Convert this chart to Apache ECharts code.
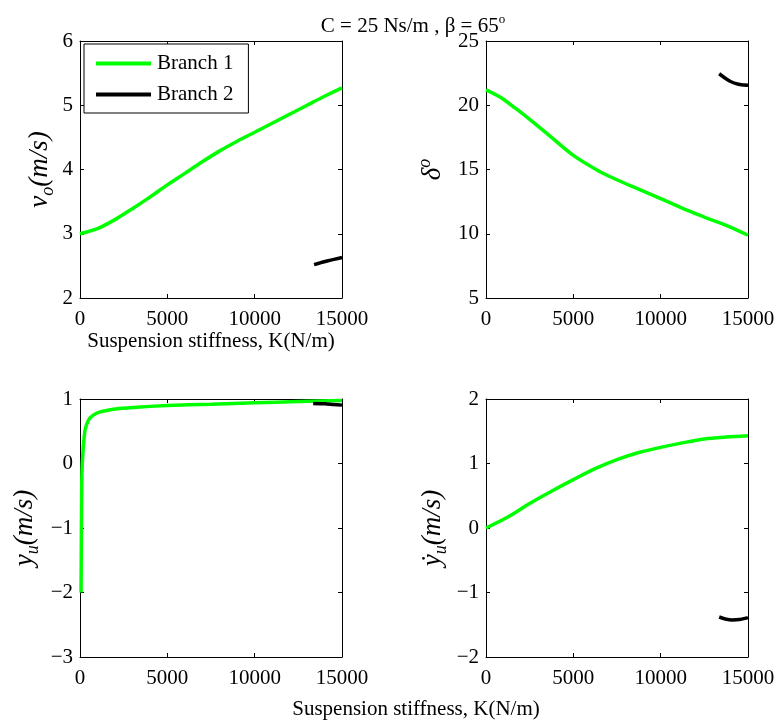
<!DOCTYPE html>
<html><head><meta charset="utf-8">
<script src="https://cdn.jsdelivr.net/npm/echarts@6/dist/echarts.min.js"></script>
<style>html,body{margin:0;padding:0;background:#fff}#c{width:779px;height:721px}</style>
</head><body><div id="c"></div>
<script>
// ---- data ----
const kVo1 = [0, 1000, 2000, 3000, 4000, 5000, 6000, 7000, 8000, 9000, 10000, 11000, 12000, 13000, 14000, 15000];
const vo1  = [3.0, 3.08, 3.22, 3.39, 3.57, 3.76, 3.94, 4.12, 4.29, 4.44, 4.58, 4.72, 4.86, 5.0, 5.14, 5.27];
const kVo2 = [13400, 13800, 14200, 14600, 15000];
const vo2  = [2.52, 2.55, 2.58, 2.605, 2.63];

const kDe1 = [0, 800, 1700, 2500, 3750, 5000, 6500, 7500, 8400, 10000, 11300, 12500, 13750, 15000];
const de1  = [21.2, 20.64, 19.75, 18.9, 17.5, 16.1, 14.85, 14.2, 13.66, 12.73, 11.95, 11.3, 10.65, 9.88];
const kDe2 = [13350, 13700, 14000, 14400, 14800, 15000];
const de2  = [22.45, 22.1, 21.85, 21.65, 21.57, 21.55];

const kYu1 = [60, 80, 100, 130, 190, 290, 480, 760, 1150, 2100, 3060, 5000, 7500, 10000, 12500, 15000];
const yu1  = [-2.0, -1.0, -0.3, 0.0, 0.26, 0.52, 0.67, 0.75, 0.8, 0.85, 0.87, 0.9, 0.92, 0.94, 0.96, 0.975];
const kYu2 = [13350, 14000, 14500, 15000];
const yu2  = [0.93, 0.925, 0.915, 0.905];

const kYd1 = [0, 1250, 2500, 3750, 5000, 6250, 7500, 8750, 10000, 11250, 12500, 13750, 15000];
const yd1  = [0, 0.17, 0.38, 0.57, 0.75, 0.92, 1.06, 1.17, 1.25, 1.32, 1.38, 1.41, 1.43];
const kYd2 = [13350, 13700, 14100, 14500, 15000];
const yd2  = [-1.38, -1.41, -1.425, -1.42, -1.39];

const xTicks = {min: 0, max: 15000, interval: 5000};
const yRanges = [
  {min: 2, max: 6, interval: 1},
  {min: 5, max: 25, interval: 5},
  {min: -3, max: 1, interval: 1},
  {min: -2, max: 2, interval: 1}
];
const titleText = 'C = 25 Ns/m , β = 65{sup|o}';
const xName = 'Suspension stiffness, K(N/m)';
const seriesNames = ['Branch 1', 'Branch 2'];

// ---- chart ----
const FONT = 'Liberation Serif';
const GREEN = '#00ff00', BLACK = '#000000';
const chart = echarts.init(document.getElementById('c'), null, {renderer: 'canvas'});

const grids = [
  {left: 80, top: 41, width: 262, height: 257},
  {left: 486, top: 41, width: 262, height: 257},
  {left: 80, top: 399, width: 262, height: 258},
  {left: 486, top: 399, width: 262, height: 258}
].map(g => Object.assign({show: false, containLabel: false, outerBoundsMode: 'none'}, g));

const nameRich = {
  i: {fontFamily: FONT, fontStyle: 'italic', fontSize: 27, lineHeight: 34, color: '#000'},
  sub: {fontFamily: FONT, fontStyle: 'italic', fontSize: 18, lineHeight: 18, verticalAlign: 'bottom', color: '#000'},
  sup: {fontFamily: FONT, fontStyle: 'italic', fontSize: 18, lineHeight: 18, verticalAlign: 'top', color: '#000'}
};
const yNames = [
  {t: '{i|v}{sub|o}{i|(m/s)}', gap: 23},
  {t: '{i|δ}{sup|o}', gap: 36},
  {t: '{i|y}{sub|u}{i|(m/s)}', gap: 38},
  {t: '{i|ẏ}{sub|u}{i|(m/s)}', gap: 36}
];

const axLine = {show: true, onZero: false, lineStyle: {color: '#000', width: 1}};
const axTick = {show: true, inside: true, length: 4, lineStyle: {color: '#000', width: 1}};
const labelStyle = {fontFamily: FONT, fontSize: 21, color: '#000'};

const xAxes = [], yAxes = [];
for (let i = 0; i < 4; i++) {
  xAxes.push(Object.assign({
    type: 'value', gridIndex: i, position: 'bottom',
    axisLine: axLine, axisTick: axTick, splitLine: {show: false},
    axisLabel: Object.assign({margin: 11, formatter: v => String(v)}, labelStyle),
    name: i === 0 ? xName : '', nameLocation: 'middle', nameGap: 29,
    nameTextStyle: {fontFamily: FONT, fontSize: 21, color: '#000'}
  }, xTicks));
  xAxes.push(Object.assign({
    type: 'value', gridIndex: i, position: 'top',
    axisLine: axLine, axisTick: axTick, splitLine: {show: false}, axisLabel: {show: false}
  }, xTicks));
  yAxes.push(Object.assign({
    type: 'value', gridIndex: i, position: 'left',
    axisLine: axLine, axisTick: axTick, splitLine: {show: false},
    axisLabel: Object.assign({margin: 7, formatter: v => String(v).replace('-', '\u2212')}, labelStyle),
    name: yNames[i].t, nameLocation: 'middle', nameGap: yNames[i].gap, nameRotate: 90,
    nameTextStyle: {rich: nameRich}
  }, yRanges[i]));
  yAxes.push(Object.assign({
    type: 'value', gridIndex: i, position: 'right',
    axisLine: axLine, axisTick: axTick, splitLine: {show: false}, axisLabel: {show: false}
  }, yRanges[i]));
}

function zip(xs, ys) { return xs.map((x, j) => [x, ys[j]]); }
function mk(name, idx, xs, ys, color, sm) {
  return {
    type: 'line', name: name, xAxisIndex: idx * 2, yAxisIndex: idx * 2,
    data: zip(xs, ys), showSymbol: false, symbol: 'none',
    smooth: sm,
    lineStyle: {color: color, width: 3.5}, itemStyle: {color: color},
    clip: true, animation: false
  };
}
const series = [
  mk(seriesNames[0], 0, kVo1, vo1, GREEN, 0.3), mk(seriesNames[1], 0, kVo2, vo2, BLACK, 0.3),
  mk(seriesNames[0], 1, kDe1, de1, GREEN, 0.35), mk(seriesNames[1], 1, kDe2, de2, BLACK, 0.3),
  mk(seriesNames[0], 2, kYu1, yu1, GREEN, 0.15), mk(seriesNames[1], 2, kYu2, yu2, BLACK, 0.3),
  mk(seriesNames[0], 3, kYd1, yd1, GREEN, 0.3), mk(seriesNames[1], 3, kYd2, yd2, BLACK, 0.3)
];

chart.setOption({
  animation: false,
  backgroundColor: '#fff',
  title: [
    {text: titleText, left: 408, top: 8, textAlign: 'center',
     textStyle: {fontFamily: FONT, fontSize: 21, fontWeight: 'normal', color: '#000', lineHeight: 26,
       rich: {sup: {fontFamily: FONT, fontSize: 13, lineHeight: 13, verticalAlign: 'top', color: '#000'}}}},
    {text: xName, left: 411, top: 694, textAlign: 'center',
     textStyle: {fontFamily: FONT, fontSize: 21, fontWeight: 'normal', color: '#000'}}
  ],
  legend: {
    left: 84, top: 44, orient: 'vertical', data: seriesNames,
    icon: 'rect',
    borderColor: '#000', borderWidth: 1, backgroundColor: '#fff',
    padding: [9, 15, 8, 12], itemWidth: 55, itemHeight: 4, itemGap: 10,
    textStyle: {fontFamily: FONT, fontSize: 21, color: '#000', lineHeight: 20, padding: [0, 0, 0, 1]},
    z: 10
  },
  grid: grids,
  xAxis: xAxes,
  yAxis: yAxes,
  series: series
});
</script>
</body></html>
